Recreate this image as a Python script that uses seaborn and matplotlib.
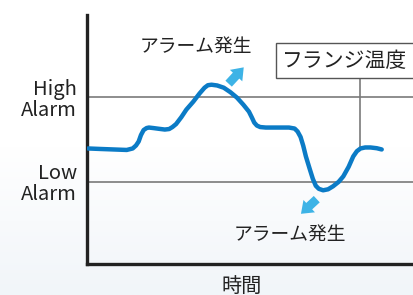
import numpy as np
import pandas as pd
import matplotlib
matplotlib.use("Agg")
import matplotlib.pyplot as plt
from matplotlib.patches import Rectangle, FancyArrowPatch
from matplotlib.colors import LinearSegmentedColormap
import seaborn as sns

# ---- data ----
time = [0.3, 4.0, 8.0, 12.0, 13.8, 14.8, 15.6, 16.3, 17.1, 18.0, 18.7, 20.0, 21.7,
        23.5, 24.8, 25.8, 26.9, 28.5, 30.0, 32.1, 34.0, 35.5, 36.5, 37.6, 39.3,
        41.3, 43.3, 45.3, 47.2, 48.9, 49.8, 50.5, 51.3, 52.3, 54.0, 57.5, 61.0,
        62.7, 63.6, 64.5, 65.3, 66.1, 67.3, 68.2, 69.1, 70.0, 71.3, 72.8, 74.3,
        76.0, 77.4, 79.0, 80.4, 81.5, 82.6, 84.0, 85.6, 87.5, 89.0]
temperature = [46.4, 46.2, 46.0, 45.8, 46.4, 47.6, 49.2, 51.8, 53.8, 54.6, 54.8, 54.6, 54.3,
               54.0, 54.2, 55.0, 56.2, 59.0, 62.0, 65.2, 68.5, 70.8, 71.8, 72.0, 71.7,
               70.8, 69.0, 66.8, 64.0, 61.2, 58.8, 56.8, 55.6, 55.0, 54.8, 54.8, 54.8,
               54.4, 53.2, 51.0, 47.5, 43.2, 38.0, 34.2, 31.4, 30.2, 29.6, 30.0, 31.2,
               33.0, 35.2, 39.0, 43.2, 45.3, 46.4, 46.8, 46.8, 46.5, 46.0]
high_alarm = 67
low_alarm = 33
alarm_labels = ["High\nAlarm", "Low\nAlarm"]
event_label = "アラーム発生"
series_label = "フランジ温度"
x_label = "時間"

sns.set_style("white")
plt.rcParams['font.family'] = ['Noto Sans CJK JP', 'DejaVu Sans']

fig = plt.figure(figsize=(4.14, 2.95), dpi=100)

# background gradient
bg = fig.add_axes([0, 0, 1, 1], zorder=-10)
grad = np.linspace(0, 1, 256).reshape(-1, 1)
cmap = LinearSegmentedColormap.from_list("bg", ["#ffffff", "#ffffff", "#f1f5f9"])
bg.imshow(grad, aspect="auto", cmap=cmap, extent=[0, 1, 0, 1], origin="upper")
bg.axis("off")

ax = fig.add_axes([87/414, 31/295, 1 - 87/414 + 0.01, 249/295])
ax.set_facecolor("none")
ax.set_xlim(0, 100)
ax.set_ylim(0, 100)

line_color = "#0b7bc6"
arrow_color = "#3db3e6"
gray = "#7a7a7a"

for y in (high_alarm, low_alarm):
    ax.axhline(y, color=gray, lw=1.2, zorder=1)

df = pd.DataFrame({"time": time, "temp": temperature})
sns.lineplot(data=df, x="time", y="temp", sort=False, ax=ax, color=line_color,
             lw=3.2, zorder=3)
for l in ax.lines:
    l.set_solid_capstyle("round")
    l.set_solid_joinstyle("round")

# y labels
ax.set_yticks([high_alarm, low_alarm])
ax.set_yticklabels(alarm_labels, fontsize=14.5, color="#222222", linespacing=1.0)
ax.tick_params(axis="y", length=0, pad=7)
ax.set_xticks([])
ax.set_xlabel("")
ax.set_ylabel("")

for s in ("top", "right"):
    ax.spines[s].set_visible(False)
for s in ("left", "bottom"):
    ax.spines[s].set_color("#222222")
    ax.spines[s].set_linewidth(2.4)

# x label
fig.text(242/414, 1 - 286/295, x_label, ha="center", va="center", fontsize=14.5,
         color="#222222")

# alarm annotations
ax.text(32.9, 87.4, event_label, ha="center", va="center", fontsize=13.5, color="#222222")
ax.text(61.2, 12.0, event_label, ha="center", va="center", fontsize=13.5, color="#222222")

for (x0, y0, x1, y1) in [(42.2, 71.6, 47.9, 79.8), (70.0, 26.8, 64.0, 19.4)]:
    arr = FancyArrowPatch((x0, y0), (x1, y1), arrowstyle="simple,head_width=1.35,head_length=0.9,tail_width=0.7",
                          mutation_scale=9, color=arrow_color, lw=0, zorder=4)
    ax.add_patch(arr)

# series label box
box = Rectangle((57.2, 74.8), 50, 14.0, facecolor="white", edgecolor="#555555",
                lw=1.0, zorder=5, clip_on=False)
ax.add_patch(box)
ax.text(58.9, 81.7, series_label, ha="left", va="center", fontsize=15, color="#222222",
        zorder=6)
ax.plot([82.3, 82.3], [74.8, 46.8], color=gray, lw=1.2, zorder=2)

fig.savefig("out.png", dpi=100)
